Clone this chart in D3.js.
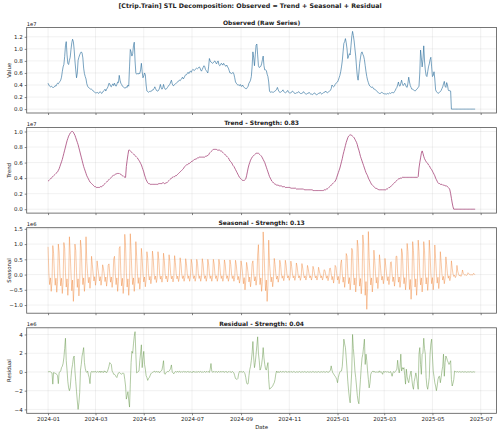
<!DOCTYPE html>
<html lang="en">
<head>
<meta charset="UTF-8">
<title>STL Decomposition</title>
<script src="https://d3js.org/d3.v7.min.js"></script>
<style>
  body { margin: 0; background: #fff; }
  svg text { font-family: "DejaVu Sans", sans-serif; fill: #222; }
</style>
</head>
<body>
<script>
// daily series starting 2024-01-01, one row = two weeks
var startDate = new Date(2024, 0, 1);

// observed, units of 1e5
var observed = [
  43,40,38,37,38,37,36, 36,37,39,38,41,43,42,
  44,46,48,53,62,70,74, 87,105,112,90,76,74,81,
  86,99,110,116,112,99,80, 65,52,60,81,86,90,93,
  95,93,85,68,59,54,50, 42,38,36,35,34,33,33,
  32,30,29,28,27,27,28, 27,26,28,29,27,26,28,
  30,31,33,30,33,35,38, 43,42,38,37,40,42,39,
  43,40,38,41,45,44,56, 48,43,41,38,37,36,35,
  35,37,36,40,38,70,99, 95,88,92,105,111,80,60,
  58,59,58,60,59,65,76, 62,52,55,60,57,40,30,
  29,28,29,30,29,30,32, 32,34,37,34,31,30,30,
  32,35,41,36,33,35,41, 36,33,33,34,36,38,40,
  41,45,48,42,39,39,41, 42,43,44,45,47,48,47,
  49,51,53,50,52,55,57, 57,59,61,59,62,63,61,
  64,66,65,64,66,67,68, 67,68,70,69,65,63,66,
  69,72,71,66,64,62,60, 70,84,80,78,77,76,77,
  79,80,77,75,78,80,74, 72,73,76,75,73,76,74,
  72,71,73,70,68,64,60, 60,59,60,61,58,52,45,
  43,41,40,40,39,41,38, 38,40,37,36,35,34,34,
  36,38,43,45,48,54,70, 95,85,72,90,106,108,90,
  72,69,70,71,75,82,88, 72,65,65,64,58,54,45,
  30,28,28,29,28,28,29, 30,31,33,36,32,29,28,
  28,29,30,32,29,28,27, 28,29,31,28,27,27,27,
  28,30,29,27,26,26,27, 27,28,29,27,26,26,26,
  27,29,27,26,25,25,26, 26,28,26,25,25,24,25,
  26,27,25,24,24,25,26, 26,28,26,25,26,27,28,
  28,30,28,27,28,29,30, 31,34,40,38,37,38,41,
  43,44,45,48,52,56,62, 70,80,95,109,112,117,110,
  100,84,88,92,90,105,120, 129,122,113,100,88,70,55,
  48,60,76,85,93,95,91, 88,82,72,62,54,48,44,
  40,38,37,36,37,35,33, 33,32,31,29,28,27,26,
  26,27,28,27,26,25,26, 25,25,26,25,26,27,26,
  27,28,27,27,29,31,34, 36,40,45,39,38,43,48,
  42,39,41,43,40,37,36, 43,53,45,39,36,33,33,
  32,31,30,31,33,34,36, 38,60,98,85,70,82,105,
  80,65,56,54,62,70,75, 82,86,70,54,56,62,50,
  32,29,28,26,27,28,29, 31,34,37,42,46,38,36,
  44,40,32,30,31,30,0, 0,0,0,0,0,0,0,
  0,0,0,0,0,0,0, 0,0,0,0,0,0,0,
  0,0,0,0,0,0,0, 0,0
];

// trend, units of 1e5
var trend = [
  36,37,38,39,40,41,42, 43,44,45,46,47,48,50,
  52,55,58,61,64,68,72, 76,80,84,88,91,94,96,
  98,99,100,100,99,97,95, 92,89,86,83,79,75,71,
  67,63,59,55,52,49,46, 43,41,39,37,35,34,33,
  32,31,30,29,29,28,28, 28,28,28,29,29,29,30,
  31,32,33,34,35,36,37, 38,39,40,41,42,43,44,
  44,45,45,46,46,46,46, 45,45,44,43,43,42,41,
  41,55,63,70,76,76,75, 74,73,72,71,70,69,68,
  67,66,64,63,61,59,57, 54,51,48,44,41,38,36,
  34,33,33,32,32,32,32, 32,32,32,32,32,32,32,
  33,33,33,33,33,34,34, 33,33,34,34,35,36,37,
  38,39,40,41,41,42,42, 43,43,44,45,46,47,48,
  49,50,51,52,54,55,56, 57,57,58,59,59,60,61,
  62,62,63,64,64,65,65, 66,66,67,67,67,67,67,
  67,67,67,68,68,69,69, 70,72,73,74,75,76,77,
  77,77,77,77,76,76,76, 76,75,75,74,73,72,71,
  70,69,68,67,66,64,62, 61,60,58,56,55,53,51,
  49,47,45,43,41,40,39, 38,37,37,37,38,39,43,
  48,53,57,60,63,65,67, 68,69,70,71,72,72,72,
  72,71,70,69,68,66,64, 62,60,57,54,51,48,45,
  42,40,38,36,35,34,33, 32,32,31,31,31,30,30,
  30,30,29,29,29,29,28, 28,28,28,28,28,28,27,
  27,27,27,27,27,27,26, 26,26,26,26,26,26,26,
  26,26,25,25,25,25,25, 25,25,25,25,25,25,24,
  24,24,24,24,24,24,24, 24,24,24,24,24,24,25,
  25,25,26,26,27,28,29, 30,31,32,33,34,35,36,
  38,41,44,47,50,53,57, 61,65,70,74,78,82,86,
  89,92,94,95,96,95,95, 94,93,92,90,88,86,83,
  79,76,72,68,65,62,59, 56,53,50,47,45,43,40,
  38,36,34,32,31,30,29, 28,27,27,26,26,25,25,
  25,25,25,25,25,25,25, 25,26,26,27,28,28,29,
  30,31,32,33,34,35,36, 37,38,39,39,40,40,40,
  41,41,41,41,41,41,41, 41,41,41,41,41,41,41,
  41,41,41,41,41,41,42, 53,60,66,72,75,72,68,
  65,63,61,60,59,57,56, 54,52,51,49,47,45,43,
  40,38,36,34,33,33,32, 32,32,31,31,31,30,30,
  30,29,28,27,25,20,14, 8,3,0,0,0,0,0,
  0,0,0,0,0,0,0, 0,0,0,0,0,0,0,
  0,0,0,0,0,0,0, 0,0
];

// seasonal, units of 1e4
var seasonal = [
  91,5,-33,-11,-55,-22,95, 70,5,-35,-12,-58,-23,100,
  74,5,-37,-12,-62,-25,105, 87,6,-41,-14,-68,-27,124,
  70,5,-53,-18,-88,-35,100, 79,6,-42,-14,-70,-28,113,
  87,6,-33,-11,-55,-22,124, 42,3,-27,-9,-45,-18,60,
  32,2,-21,-7,-35,-14,45, 22,2,-21,-7,-35,-14,32,
  21,2,-23,-8,-38,-15,30, 35,3,-25,-8,-42,-17,50,
  60,4,-33,-11,-55,-22,86, 92,7,-37,-12,-62,-25,132,
  94,7,-41,-14,-68,-27,134, 76,5,-33,-11,-55,-22,108,
  60,4,-29,-10,-48,-19,86, 53,4,-24,-8,-40,-16,75,
  54,4,-18,-6,-30,-12,77, 53,4,-16,-5,-26,-10,75,
  49,4,-15,-5,-25,-10,70, 46,3,-14,-5,-24,-10,65,
  43,3,-14,-5,-24,-10,62, 39,3,-14,-5,-23,-9,55,
  36,3,-13,-4,-22,-9,52, 35,3,-13,-4,-22,-9,50,
  35,3,-13,-4,-22,-9,50, 36,3,-13,-4,-22,-9,52,
  35,3,-13,-4,-22,-9,50, 35,3,-13,-4,-22,-9,50,
  35,3,-13,-4,-22,-9,50, 34,2,-13,-4,-22,-9,48,
  34,2,-13,-4,-22,-9,48, 33,2,-13,-4,-22,-9,47,
  32,2,-17,-6,-28,-11,45, 28,2,-30,-10,-50,-20,40,
  25,2,-24,-8,-40,-16,35, 45,3,-21,-7,-35,-14,64,
  98,7,-33,-11,-55,-22,140, 79,6,-53,-18,-88,-35,113,
  37,3,-24,-8,-40,-16,53, 33,2,-15,-5,-25,-10,47,
  33,2,-12,-4,-20,-8,47, 31,2,-11,-4,-19,-8,44,
  27,2,-11,-4,-19,-8,38, 25,2,-11,-4,-19,-8,36,
  21,2,-11,-4,-18,-7,30, 19,1,-11,-4,-18,-7,27,
  17,1,-11,-4,-18,-7,24, 11,1,-11,-4,-18,-7,16,
  14,1,-12,-4,-20,-8,20, 21,2,-17,-6,-28,-11,30,
  25,2,-18,-6,-30,-12,36, 48,3,-25,-8,-42,-17,69,
  60,4,-30,-10,-50,-20,86, 79,6,-34,-11,-57,-23,113,
  91,7,-38,-13,-63,-25,130, 99,7,-68,-23,-114,-46,141,
  56,4,-34,-11,-57,-23,80, 46,3,-28,-9,-46,-18,65,
  37,3,-18,-6,-30,-12,53, 28,2,-20,-7,-33,-13,40,
  42,3,-23,-8,-38,-15,60, 60,4,-25,-8,-42,-17,85,
  71,5,-30,-10,-50,-20,102, 76,5,-49,-16,-81,-32,108,
  79,6,-41,-14,-68,-27,113, 76,5,-34,-11,-57,-23,108,
  79,6,-31,-10,-52,-21,113, 68,5,-30,-10,-50,-20,97,
  53,4,-28,-9,-46,-18,75, 41,3,-18,-6,-30,-12,58,
  32,2,-12,-4,-20,-8,45, 21,2,-6,-2,-10,-4,30,
  11,1,-4,-1,-6,-2,15, 4,0,-2,-1,-3,-1,6,
  3,0,-1,0,-2,-1,4, 1,0
];

// residual, units of 1e4
var residual = [
  3,2,4,2,-5,-10,-130, -5,-10,-15,-18,-25,-40,-125,
  -5,0,10,46,60,90,150, 250,360,120,20,-100,-170,-200,
  -170,-60,30,80,150,170,10, -100,-210,-310,-400,-330,-220,20,
  80,170,210,260,100,40,5, -5,10,-30,-60,-125,-10,5,
  3,-5,8,-2,6,-4,2, 5,-3,8,-6,10,-4,3,
  -6,12,-2,5,-8,4,30, 60,100,90,80,10,-5,-25,
  -25,-35,-50,-60,-30,-10,-5, -10,-20,-25,-15,-10,-20,-80,
  -150,-290,-250,-210,-300,-375,-130, 100,220,200,300,380,430,190,
  -10,-5,5,10,120,200,290, 46,150,220,80,30,-40,-60,
  -90,-70,-60,-40,-20,-10,-5, 0,5,8,-4,6,2,-3,
  5,-8,4,10,20,65,120, -15,-25,-10,0,5,3,10,
  20,40,75,0,-10,-20,-5, 5,-3,2,6,-4,8,3,
  -5,4,-2,6,-3,5,2, -4,6,-3,5,-2,4,-6,
  3,-5,7,-2,4,-6,5, -3,6,-4,2,5,-3,4,
  -6,3,5,-4,2,6,-3, 4,-5,30,90,10,-4,5,
  -3,6,-2,4,-5,3,6, -4,5,-3,7,-2,4,-5,
  6,-3,4,-6,2,5,-4, 3,-5,6,-3,-10,-40,-70,
  -75,-80,-70,-20,5,3,-2, 4,-3,6,-5,-20,-60,-115,
  -130,-125,-40,25,60,120,200, 325,150,46,100,190,280,375,
  200,120,20,40,80,150,260, 150,80,30,20,60,100,-80,
  -185,-175,-170,-160,-150,-130,-115, -80,-20,10,-5,5,-8,3,
  6,-4,5,-3,4,-2,6, -3,5,-4,3,-2,6,-4,
  4,-3,5,-2,3,-5,2, -3,4,-2,5,-3,2,-4,
  3,-2,4,-3,2,-4,3, -2,3,-4,2,-3,4,-2,
  3,-3,2,-4,3,-2,4, -3,2,-4,3,-2,4,-3,
  2,-3,4,-2,3,-4,5, 20,65,20,-10,-20,-35,-46,
  -60,-80,-115,-60,-25,0,10, 10,60,190,350,300,260,150,
  30,-100,-200,-280,-330,-150,10, 400,250,150,10,-60,-150,-250,
  -310,-340,-200,-80,50,150,190, 270,350,80,190,120,10,-80,
  -170,-120,-25,-5,5,10,-3, 5,-4,3,-6,4,-3,12,
  -5,4,-8,-25,5,3,-4, 6,-3,4,-5,3,-6,5,
  -15,-46,-10,5,-5,3,15, 30,125,40,-10,50,190,10,
  46,30,46,-40,-130,30,-50, -90,-115,-60,-20,10,-80,-150,
  -185,-100,-60,-10,-50,-120,-185, 190,260,80,-25,190,200,360,
  250,190,-60,-150,-185,-130,-60, 190,300,350,170,10,-50,-115,
  -150,-200,-150,-80,-50,-46,-115, -60,10,60,190,-46,100,170,
  150,120,100,80,100,120,-80, -150,-120,-80,10,5,-3,4,
  3,-2,4,-3,2,-1,3, -2,3,-1,2,-3,1,-2,
  2,-1,3,-2,1,-2,2, -1,1
];

var xTickLabels = ["2024-01", "2024-03", "2024-05", "2024-07", "2024-09",
                   "2024-11", "2025-01", "2025-03", "2025-05", "2025-07"];
var obsTicks = [0, 0.2, 0.4, 0.6, 0.8, 1.0, 1.2];       // x1e7
var trendTicks = [0, 0.2, 0.4, 0.6, 0.8, 1.0];          // x1e7
var seasTicks = [-1.0, -0.5, 0, 0.5, 1.0, 1.5];         // x1e6
var resTicks = [-4, -2, 0, 2, 4];                       // x1e6

var panels = [
  { title: "Observed (Raw Series)", ylabel: "Value", values: observed, unit: 1e5,
    exp: 1e7, expText: "1e7", ticks: obsTicks, fmt: d3.format(".1f"),
    color: "#2E6F9E", width: 0.75, opacity: 0.85 },
  { title: "Trend - Strength: 0.83", ylabel: "Trend", values: trend, unit: 1e5,
    exp: 1e7, expText: "1e7", ticks: trendTicks, fmt: d3.format(".1f"),
    color: "#A23B72", width: 0.9, opacity: 0.85 },
  { title: "Seasonal - Strength: 0.13", ylabel: "Seasonal", values: seasonal, unit: 1e4,
    exp: 1e6, expText: "1e6", ticks: seasTicks, fmt: d3.format(".1f"),
    color: "#ee7f2d", width: 0.65, opacity: 0.65 },
  { title: "Residual - Strength: 0.04", ylabel: "Residual", values: residual, unit: 1e4,
    exp: 1e6, expText: "1e6", ticks: resTicks, fmt: d3.format(".0f"),
    color: "#6A994E", width: 0.7, opacity: 0.75 }
];

var W = 500, H = 433;
var left = 26.7, right = 496.5;
var firstTop = 27.5, pitch = 100.1, panelH = 85.5;

var svg = d3.select("body").append("svg")
  .attr("width", W)
  .attr("height", H);

// suptitle
svg.append("text")
  .attr("x", W / 2).attr("y", 8.4)
  .attr("text-anchor", "middle")
  .attr("font-size", 6.3).attr("font-weight", "bold")
  .text("[Ctrip.Train] STL Decomposition: Observed = Trend + Seasonal + Residual");

// shared time axis, padded like matplotlib (5% each side)
var t0 = startDate;
var t1 = d3.timeDay.offset(startDate, observed.length - 1);
var pad = (t1 - t0) * 0.05;
var x = d3.scaleTime()
  .domain([new Date(+t0 - pad), new Date(+t1 + pad)])
  .range([left, right]);
var parseMonth = d3.timeParse("%Y-%m");
var xTicks = xTickLabels.map(parseMonth);
var minus = function(s) { return s.replace("-", "\u2212"); };

panels.forEach(function(p, i) {
  var top = firstTop + i * pitch, bottom = top + panelH;
  var pts = p.values.map(function(v, k) {
    return { date: d3.timeDay.offset(startDate, k), value: v * p.unit };
  });
  var ext = d3.extent(pts, function(d) { return d.value; });
  var span = ext[1] - ext[0];
  var y = d3.scaleLinear()
    .domain([ext[0] - span * 0.05, ext[1] + span * 0.05])
    .range([bottom, top]);
  var yTickVals = p.ticks.map(function(t) { return t * p.exp; });

  var g = svg.append("g");

  // grid
  g.selectAll(".gx").data(xTicks).enter().append("line")
    .attr("x1", function(d) { return x(d); }).attr("x2", function(d) { return x(d); })
    .attr("y1", top).attr("y2", bottom)
    .attr("stroke", "#b0b0b0").attr("stroke-opacity", 0.3).attr("stroke-width", 0.6);
  g.selectAll(".gy").data(yTickVals).enter().append("line")
    .attr("x1", left).attr("x2", right)
    .attr("y1", function(d) { return y(d); }).attr("y2", function(d) { return y(d); })
    .attr("stroke", "#b0b0b0").attr("stroke-opacity", 0.3).attr("stroke-width", 0.6);

  // series
  var line = d3.line()
    .x(function(d) { return x(d.date); })
    .y(function(d) { return y(d.value); });
  g.append("path")
    .datum(pts)
    .attr("d", line)
    .attr("fill", "none")
    .attr("stroke", p.color)
    .attr("stroke-width", p.width)
    .attr("stroke-opacity", p.opacity)
    .attr("stroke-linejoin", "round");

  // axes
  var yAxis = d3.axisLeft(y)
    .tickValues(yTickVals)
    .tickSize(2).tickPadding(2)
    .tickFormat(function(d) { return minus(p.fmt(d / p.exp)); });
  var ya = g.append("g").attr("transform", "translate(" + left + ",0)").call(yAxis);

  var xAxis = d3.axisBottom(x)
    .tickValues(xTicks)
    .tickSize(2).tickPadding(1.5)
    .tickFormat(i === panels.length - 1 ? d3.timeFormat("%Y-%m") : function() { return ""; });
  var xa = g.append("g").attr("transform", "translate(0," + bottom + ")").call(xAxis);

  [ya, xa].forEach(function(a) {
    a.select(".domain").remove();
    a.selectAll(".tick line").attr("stroke", "#333").attr("stroke-width", 0.6);
    a.selectAll(".tick text").attr("font-size", 5.5).attr("fill", "#333")
      .attr("font-family", "DejaVu Sans, sans-serif");
  });

  // frame
  g.append("rect")
    .attr("x", left).attr("y", top)
    .attr("width", right - left).attr("height", panelH)
    .attr("fill", "none").attr("stroke", "#555").attr("stroke-width", 0.8);

  // title, offset text, y label
  g.append("text")
    .attr("x", (left + right) / 2).attr("y", top - 2.3)
    .attr("text-anchor", "middle")
    .attr("font-size", 6).attr("font-weight", "bold")
    .text(p.title);
  g.append("text")
    .attr("x", left).attr("y", top - 1.8)
    .attr("font-size", 5.2).attr("fill", "#333")
    .text(p.expText);
  g.append("text")
    .attr("transform", "translate(11," + (top + panelH / 2) + ") rotate(-90)")
    .attr("text-anchor", "middle")
    .attr("font-size", 5.4).attr("fill", "#333")
    .text(p.ylabel);
});

svg.append("text")
  .attr("x", (left + right) / 2).attr("y", 428.5)
  .attr("text-anchor", "middle")
  .attr("font-size", 5.4).attr("fill", "#333")
  .text("Date");
</script>
</body>
</html>
